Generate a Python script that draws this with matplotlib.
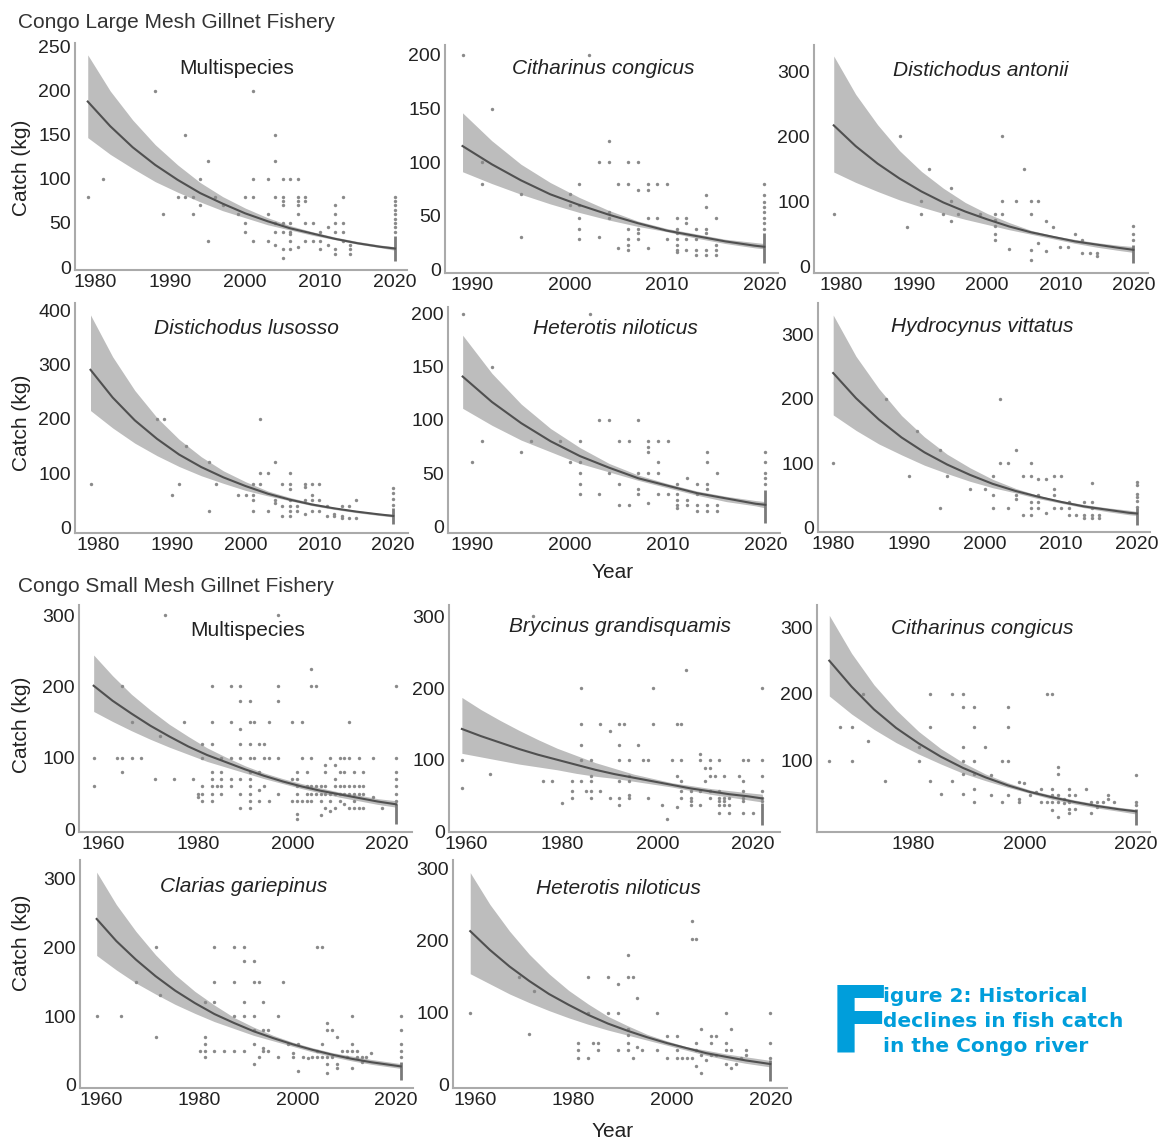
import numpy as np
import matplotlib
matplotlib.use('Agg')
import matplotlib.pyplot as plt

plt.rcParams['font.family'] = ['Liberation Sans', 'DejaVu Sans']

W, H = 1169, 1140

# ---------------- scatter data: (year, [catch values in kg]) ----------------
lm_multi_pts = [(1979,[80]),(1981,[100]),(1988,[200]),(1989,[60]),(1991,[80]),(1992,[150,80]),(1993,[80,60]),
    (1994,[100,70]),(1995,[120,30]),(1996,[80]),(1997,[70]),(1999,[60]),(2000,[80,50,40]),(2001,[200,100,80,30]),
    (2003,[100,60,30]),(2004,[150,120,80,50,40,25]),(2005,[100,80,75,70,50,40,20,10]),(2006,[100,50,40,37,30,20]),
    (2007,[100,80,75,70,60,23]),(2008,[80,75,50,30]),(2009,[50,30]),(2010,[40,30,20]),(2011,[45,25]),
    (2012,[70,60,50,40,20,15]),(2013,[80,50,40,30]),(2014,[25,20,15]),(2020,[80,75,70,65,60,55,50,45,40])]
lm_cith_pts = [(1989,[200]),(1991,[100,80]),(1992,[150]),(1995,[70,30]),(2000,[70,60]),(2001,[80,60,48,38,28]),
    (2002,[200]),(2003,[100,30]),(2004,[120,100,53,48]),(2005,[80,20]),(2006,[100,80,38,28,23,18]),
    (2007,[100,74,38,34,28]),(2008,[80,74,48,20]),(2009,[80,48]),(2010,[80,28]),(2011,[48,38,34,28,23,18,16]),
    (2012,[48,43,28,18]),(2013,[38,28,18,13]),(2014,[69,58,38,34,18,13]),(2015,[48,23,18,13]),
    (2020,[80,69,63,58,53,48,43,38])]
lm_dant_pts = [(1979,[80]),(1988,[200]),(1989,[60]),(1991,[100,80]),(1992,[150]),(1994,[80]),(1995,[120,100,70]),
    (1996,[80]),(1999,[80]),(2001,[80,71,61,50,40]),(2002,[200,100,80]),(2003,[26]),(2004,[100]),(2005,[150]),
    (2006,[100,80,25,10]),(2007,[100,35]),(2008,[70,23]),(2009,[60]),(2010,[30]),(2011,[30]),(2012,[50]),
    (2013,[40,20]),(2014,[20]),(2015,[20,15]),(2020,[61,50,40])]
lm_dlus_pts = [(1979,[80]),(1988,[200]),(1989,[200]),(1990,[60]),(1991,[80]),(1992,[150]),(1995,[120,30]),(1996,[80]),
    (1999,[60]),(2000,[60]),(2001,[80,60,50,30]),(2002,[200,100,80]),(2003,[100,30]),(2004,[120,50,45]),
    (2005,[80,40,20]),(2006,[100,80,70,50,40,30,20]),(2007,[40,30]),(2008,[80,75,50,25]),(2009,[80,60,50,30]),
    (2010,[80,50,30]),(2011,[40,20]),(2012,[25,20]),(2013,[40,20,17]),(2014,[40,17]),(2015,[50,17]),
    (2020,[72,63,52,41])]
lm_hnil_pts = [(1989,[200]),(1990,[60]),(1991,[80]),(1992,[150]),(1995,[70]),(1996,[80]),(1999,[80]),(2000,[60]),
    (2001,[80,60,50,40,30]),(2002,[200]),(2003,[100,30]),(2004,[100,50]),(2005,[80,40,20]),(2006,[80,20]),
    (2007,[100,50,35,30]),(2008,[80,75,70,50,22]),(2009,[80,60,50,30]),(2010,[80,30]),(2011,[40,30,25,20,17]),
    (2012,[45,25,20]),(2013,[40,30,20,14]),(2014,[70,60,40,35,20,14]),(2015,[50,20,14]),(2020,[70,60,50,45,40])]
lm_hvit_pts = [(1980,[100]),(1987,[200]),(1990,[80]),(1991,[150]),(1994,[120,30]),(1995,[80]),(1998,[60]),(2000,[60]),
    (2001,[80,50,30]),(2002,[200,100]),(2003,[100,30]),(2004,[120,50,45]),(2005,[80,20]),(2006,[100,80,40,30,20]),
    (2007,[75,50,40,30]),(2008,[75,23]),(2009,[80,60,50,30]),(2010,[80,30]),(2011,[40,30,20]),(2012,[20]),
    (2013,[40,20,15]),(2014,[70,40,30,20,15]),(2015,[20,15]),(2020,[71,66,52,47,41,32])]
sm_multi_pts = [(1958,[100,60]),(1963,[100]),(1964,[200,100,80]),(1966,[150,100]),(1968,[100]),(1971,[70]),
    (1972,[130]),(1973,[300]),(1975,[70]),(1977,[150]),(1979,[70]),(1980,[50,45]),(1981,[120,100,60,50,40]),
    (1983,[200,150,120,80,70,60,50,40]),(1984,[60]),(1985,[100,80,70,60,50]),(1987,[200,150,100,70,60]),
    (1989,[200,180,140,120,100,70,50,30]),(1991,[180,150,120,100,80,70,60,50,40,30]),(1992,[150,100]),
    (1993,[120,80,55,40]),(1994,[120,100,60]),(1995,[150,100,40]),(1997,[300,200,180,100,50]),(2000,[150,70,40]),
    (2001,[80,70,60,50,40,22,15]),(2002,[150,100,40]),(2003,[80,60,50,40]),(2004,[225,200,100,60,50,40]),
    (2005,[200,60,50]),(2006,[60,50,40,20]),(2007,[90,80,60,50,30]),(2008,[100,50,40,25]),(2009,[90,70,60,50,30]),
    (2010,[100,80,60,50,40]),(2011,[100,80,60,50,35]),(2012,[150,100,60,50,30]),(2013,[80,60,50,40,30]),
    (2014,[100,60,50,30]),(2015,[80,60,50,30]),(2017,[100,45]),(2019,[30]),(2022,[200,100,80,70,60,50,40])]
sm_bryc_pts = [(1959,[100,60]),(1965,[80]),(1974,[300]),(1976,[70]),(1978,[70]),(1980,[40]),(1982,[70,57,47]),
    (1984,[200,150,120,100,70]),(1985,[57]),(1986,[100,78,70,57,47]),(1988,[150,57]),(1990,[140,47]),
    (1992,[150,120,100,70,47,37]),(1993,[150]),(1994,[100,78,70,51,47]),(1996,[120]),(1997,[100]),(1998,[100,47]),
    (1999,[200,150]),(2001,[37]),(2002,[17]),(2003,[100]),(2004,[150,78,34]),(2005,[150,100,70,57,47]),(2006,[225]),
    (2007,[57,47,42,37]),(2009,[108,100,57,37]),(2010,[88,70]),(2011,[100,88,78,57,47]),(2012,[78]),
    (2013,[100,57,47,42,37,26]),(2014,[78,47,42,37]),(2015,[47,37,26]),(2017,[78]),(2018,[100,70,57,47,42,26]),
    (2019,[100]),(2020,[26]),(2022,[200,100,78,57,47,42])]
sm_cith_pts = [(1965,[100]),(1967,[150]),(1969,[150,100]),(1971,[200]),(1972,[130]),(1975,[70]),(1981,[120,100]),
    (1983,[200,150,70]),(1985,[50]),(1987,[200,70]),(1989,[200,180,120,100,80,50]),(1991,[180,150,100,80,58,38]),
    (1993,[120]),(1994,[78,48]),(1996,[100,38]),(1997,[180,150,100,48]),(1999,[68,43,38]),(2000,[66]),(2001,[48]),
    (2002,[53]),(2003,[58,38]),(2004,[200,38]),(2005,[200,58,48,38,26]),(2006,[90,80,48,38,16]),(2007,[43,36]),
    (2008,[58,48,38,28,22]),(2009,[48,28]),(2011,[58]),(2012,[38,22]),(2013,[38,31]),(2014,[38]),(2015,[48,43]),
    (2016,[38]),(2020,[78,38,33])]
sm_clar_pts = [(1959,[100]),(1964,[100]),(1967,[150]),(1971,[200,70]),(1972,[130]),(1980,[50]),(1981,[120,70,60,50,40]),
    (1983,[200,150,120,50]),(1985,[50]),(1987,[200,150,100,50]),(1989,[200,180,120,100,50]),
    (1991,[180,150,100,80,60,30]),(1992,[150,40]),(1993,[120,80,53,50]),(1994,[80,50]),(1996,[100,40]),(1997,[150]),
    (1998,[60]),(1999,[46,40]),(2000,[60,20]),(2001,[40]),(2002,[39]),(2003,[40]),(2004,[200,50,40]),
    (2005,[200,60,40]),(2006,[90,80,40,30,18]),(2007,[80,40]),(2008,[70,30,24]),(2009,[50]),(2010,[50,40]),
    (2011,[100,60,50,24]),(2012,[50,40]),(2013,[40,34]),(2014,[40]),(2015,[46]),(2021,[100,80,60,50,40])]
sm_hnil_pts = [(1959,[100]),(1969,[150]),(1971,[70]),(1972,[130]),(1981,[58,48,38]),(1983,[150,100,38]),(1984,[58]),
    (1985,[58,48]),(1987,[150,100]),(1989,[140,100,48]),(1991,[180,150,78,69,58,48]),(1992,[150,38]),(1993,[120,52]),
    (1994,[48]),(1997,[100,48]),(1999,[68,38]),(2001,[68,48,38]),(2002,[38]),(2003,[38]),(2004,[227,202,38]),
    (2005,[202,58,48,26]),(2006,[78,42,16]),(2007,[35]),(2008,[68,58,42]),(2009,[68,42]),(2011,[100,58,48,29]),
    (2012,[78,48,23]),(2013,[29]),(2014,[38]),(2015,[48,42]),(2020,[100,58,38])]

# dense column of catches in the last year (low, high)
end_ranges = [(7,35),(6,34),(4,32),(7,35),(3,34),(4,30),(8,36),(9,40),(4,28),(7,34),(5,35)]

# ---------------- fitted trends with confidence band (fit, lower, upper) ----------------
yrs_a = [1979,1982,1985,1988,1991,1994,1997,2000,2003,2006,2009,2012,2015,2018,2020]
yrs_b = [1989,1992,1995,1998,2001,2004,2007,2010,2013,2016,2019,2020]
yrs_c = [1980,1983,1986,1989,1992,1995,1998,2001,2004,2007,2010,2013,2016,2019,2020]
yrs_d = [1958,1962,1966,1970,1974,1978,1982,1986,1990,1994,1998,2002,2006,2010,2014,2018,2022]
yrs_e = [1959,1963,1967,1971,1975,1979,1983,1987,1991,1995,1999,2003,2007,2011,2015,2019,2022]
yrs_f = [1965,1969,1973,1977,1981,1985,1989,1993,1997,2001,2005,2009,2013,2017,2020]
yrs_g = [1959,1963,1967,1971,1975,1979,1983,1987,1991,1995,1999,2003,2007,2011,2015,2019,2021]
yrs_h = [1959,1963,1967,1971,1975,1979,1983,1987,1991,1995,1999,2003,2007,2011,2015,2019,2020]

lm_multi_fit = [188,160,136,116,99,84,72,61,52,44,38,32,27,23,21]
lm_multi_lo = [147,128,112,97,85,74,64,56,48,42,36,31,26,22,19]
lm_multi_hi = [241,200,167,139,116,96,80,67,56,47,40,34,29,25,23]
lm_cith_fit = [115,98,83,70,60,51,43,36,31,26,22,21]
lm_cith_lo = [91,80,70,61,53,46,40,35,29,24,20,19]
lm_cith_hi = [146,120,98,81,67,55,45,38,33,28,25,24]
lm_dant_fit = [217,185,158,135,115,98,84,72,61,52,45,38,33,28,25]
lm_dant_lo = [145,129,115,102,91,81,72,64,56,49,42,35,29,24,21]
lm_dant_hi = [324,265,218,178,146,120,98,81,67,55,47,41,36,32,30]
lm_dlus_fit = [290,239,197,163,134,111,92,76,62,51,42,35,29,24,21]
lm_dlus_lo = [215,183,155,132,112,95,81,68,58,49,40,33,27,22,19]
lm_dlus_hi = [391,314,252,202,162,130,104,84,67,55,45,37,31,26,24]
lm_hnil_fit = [141,117,97,80,66,55,45,38,31,26,21,20]
lm_hnil_lo = [111,95,81,70,59,51,43,36,29,23,19,17]
lm_hnil_hi = [180,144,115,92,74,59,48,40,33,28,24,23]
lm_hvit_fit = [240,201,168,140,117,98,82,68,57,48,40,33,28,23,22]
lm_hvit_lo = [175,151,130,113,97,84,72,62,54,45,38,31,25,20,19]
lm_hvit_hi = [330,266,216,174,141,114,93,75,61,50,42,36,31,27,25]
sm_multi_fit = [201,180,162,145,130,116,104,94,84,75,67,60,54,49,44,39,35]
sm_multi_lo = [165,151,138,126,115,105,95,87,79,71,64,57,51,45,40,35,31]
sm_multi_hi = [244,215,189,167,147,130,114,101,89,79,71,64,58,52,48,43,40]
sm_bryc_fit = [143,133,124,115,107,100,93,86,80,75,70,65,60,56,52,49,46]
sm_bryc_lo = [109,104,99,94,90,86,81,77,74,70,66,62,57,52,48,44,41]
sm_bryc_hi = [187,170,155,141,128,116,106,96,88,80,74,68,64,60,57,54,52]
sm_cith_fit = [250,211,177,149,126,106,89,75,63,53,45,38,32,27,24]
sm_cith_lo = [197,170,147,127,110,95,81,70,60,51,42,35,29,24,20]
sm_cith_hi = [318,261,214,176,144,118,97,80,67,56,48,41,35,30,27]
sm_clar_fit = [241,209,182,158,137,119,103,90,78,68,59,51,44,38,33,29,27]
sm_clar_lo = [188,167,148,132,117,104,92,82,72,64,56,48,41,35,30,26,24]
sm_clar_hi = [309,262,223,189,160,136,116,98,84,72,62,54,47,42,37,33,31]
sm_hnil_fit = [213,187,164,144,126,111,97,85,75,66,58,51,44,39,34,30,29]
sm_hnil_lo = [154,140,126,114,103,93,84,76,69,62,55,48,41,35,30,26,25]
sm_hnil_hi = [294,250,213,181,154,131,112,95,82,70,61,53,48,43,39,35,34]

titles = ["Multispecies", "Citharinus congicus", "Distichodus antonii", "Distichodus lusosso",
          "Heterotis niloticus", "Hydrocynus vittatus", "Multispecies", "Brycinus grandisquamis",
          "Citharinus congicus", "Clarias gariepinus", "Heterotis niloticus"]
x_tick_labels = [[1980,1990,2000,2010,2020],[1990,2000,2010,2020],[1980,1990,2000,2010,2020],
                 [1980,1990,2000,2010,2020],[1990,2000,2010,2020],[1980,1990,2000,2010,2020],
                 [1960,1980,2000,2020],[1960,1980,2000,2020],[1980,2000,2020],[1960,1980,2000,2020],
                 [1960,1980,2000,2020]]
y_tick_labels = [[0,50,100,150,200,250],[0,50,100,150,200],[0,100,200,300],[0,100,200,300,400],
                 [0,50,100,150,200],[0,100,200,300],[0,100,200,300],[0,100,200,300],[100,200,300],
                 [0,100,200,300],[0,100,200,300]]

all_pts = [lm_multi_pts, lm_cith_pts, lm_dant_pts, lm_dlus_pts, lm_hnil_pts, lm_hvit_pts,
           sm_multi_pts, sm_bryc_pts, sm_cith_pts, sm_clar_pts, sm_hnil_pts]
curves = [(yrs_a, lm_multi_fit, lm_multi_lo, lm_multi_hi), (yrs_b, lm_cith_fit, lm_cith_lo, lm_cith_hi),
          (yrs_a, lm_dant_fit, lm_dant_lo, lm_dant_hi), (yrs_a, lm_dlus_fit, lm_dlus_lo, lm_dlus_hi),
          (yrs_b, lm_hnil_fit, lm_hnil_lo, lm_hnil_hi), (yrs_c, lm_hvit_fit, lm_hvit_lo, lm_hvit_hi),
          (yrs_d, sm_multi_fit, sm_multi_lo, sm_multi_hi), (yrs_e, sm_bryc_fit, sm_bryc_lo, sm_bryc_hi),
          (yrs_f, sm_cith_fit, sm_cith_lo, sm_cith_hi), (yrs_g, sm_clar_fit, sm_clar_lo, sm_clar_hi),
          (yrs_h, sm_hnil_fit, sm_hnil_lo, sm_hnil_hi)]

# ---------------- layout (pixel boxes: left, top, right, bottom) ----------------
boxes = [(75,43,407,270),(445,45,778,273),(814,45,1148,273),
         (75,303,408,533),(448,307,780,533),(818,303,1150,532),
         (79,605,412,832),(449,605,780,832),(817,605,1150,832),
         (80,860,413,1088),(453,860,787,1088)]
xlims = [(1977.3,2021.6),(1987.2,2021.4),(1976.3,2022.0),(1976.9,2022.0),(1987.5,2021.5),(1978.0,2021.7),
         (1954.9,2025.3),(1956.3,2025.7),(1962.8,2022.5),(1955.6,2023.5),(1955.5,2023.4)]
ylims = [(-3.4,254.5),(-3.5,209.3),(-10.8,341),(-10.4,413),(-6.6,206.6),(-6.7,348.7),
         (-3.7,314),(-0.8,316),(-7,333.5),(-4.4,326.6),(-4.2,311.5)]
title_pos = [(237,69),(603,68),(981,70),(246,328),(615,328),(982,327),(248,631),(620,627),(982,628),(244,887),(618,889)]

fig = plt.figure(figsize=(W/100, H/100), dpi=100)
fig.patch.set_facecolor('white')

for i in range(11):
    l, t, r, b = boxes[i]
    ax = fig.add_axes([l/W, 1-b/H, (r-l)/W, (b-t)/H])
    yrs, fit, lo, hi = curves[i]
    ax.fill_between(yrs, lo, hi, color='#bdbdbd', lw=0, zorder=1)
    xs = [y for y, vals in all_pts[i] for v in vals]
    ys = [v for y, vals in all_pts[i] for v in vals]
    ax.scatter(xs, ys, s=6, color='#8a8a8a', lw=0, zorder=2)
    ax.vlines(yrs[-1], end_ranges[i][0], end_ranges[i][1], color='#7a7a7a', lw=2, zorder=3)
    ax.plot(yrs, fit, color='#505050', lw=1.5, zorder=4, solid_joinstyle='round')
    ax.set_xlim(*xlims[i]); ax.set_ylim(*ylims[i])
    ax.set_xticks(x_tick_labels[i]); ax.set_yticks(y_tick_labels[i])
    for s in ['top', 'right']:
        ax.spines[s].set_visible(False)
    for s in ['left', 'bottom']:
        ax.spines[s].set_color('#aaaaaa'); ax.spines[s].set_linewidth(1.5)
    ax.tick_params(length=0, labelsize=14, labelcolor='#222222', pad=3)
    ax.patch.set_alpha(0)
    tx, ty = title_pos[i]
    fig.text(tx/W, 1-ty/H, titles[i], ha='center', va='center', fontsize=15, color='#222222',
             style='normal' if titles[i] == 'Multispecies' else 'italic')

fig.text(18/W, 1-28.5/H, "Congo Large Mesh Gillnet Fishery", ha='left', va='baseline', fontsize=15, color='#333333')
fig.text(18/W, 1-592/H, "Congo Small Mesh Gillnet Fishery", ha='left', va='baseline', fontsize=15, color='#333333')
for yc in [168, 423, 725, 943]:
    fig.text(22/W, 1-yc/H, "Catch (kg)", rotation=90, ha='center', va='center', fontsize=15, color='#222222')
fig.text(613/W, 1-578/H, "Year", ha='center', va='baseline', fontsize=15, color='#222222')
fig.text(613/W, 1-1137/H, "Year", ha='center', va='baseline', fontsize=15, color='#222222')

blue = '#009EDB'
fig.text(829/W, 1-1052/H, "F", ha='left', va='baseline', fontsize=66, fontweight='bold', color=blue, family='DejaVu Sans')
for txt, yb in [("igure 2: Historical", 1002), ("declines in fish catch", 1027), ("in the Congo river", 1052)]:
    fig.text(883/W, 1-yb/H, txt, ha='left', va='baseline', fontsize=14.5, fontweight='bold', color=blue, family='DejaVu Sans')

fig.savefig('out.png', dpi=100, facecolor='white')
